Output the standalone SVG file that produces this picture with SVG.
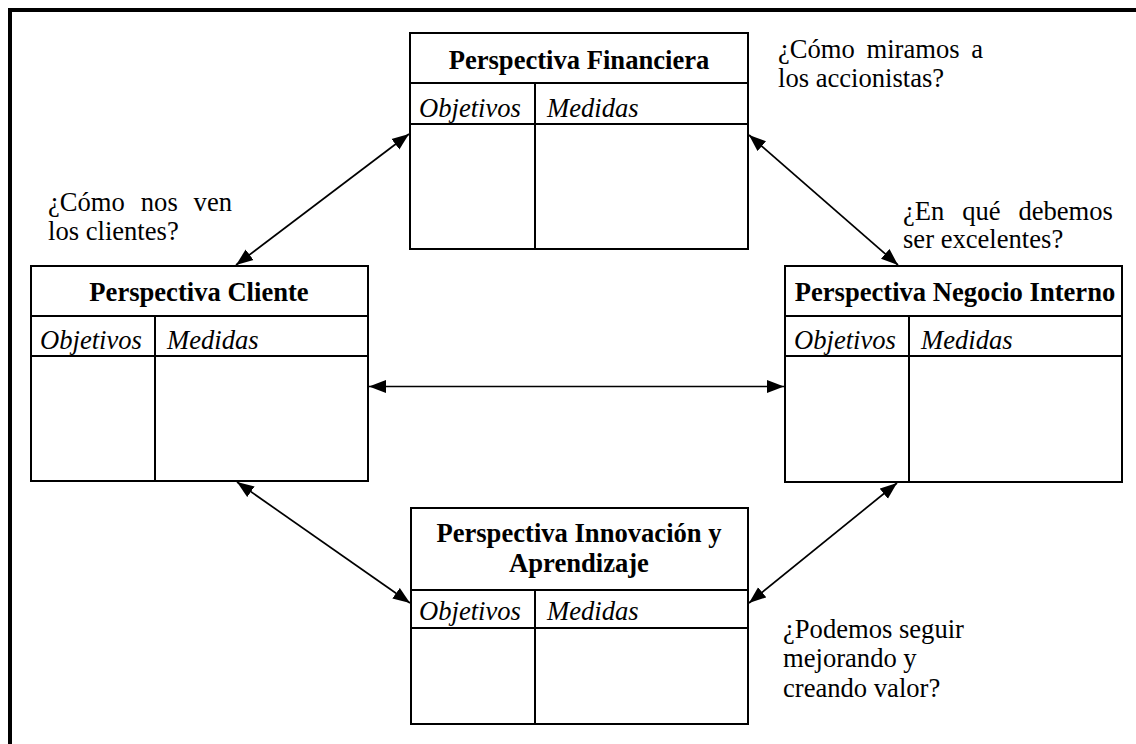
<svg xmlns="http://www.w3.org/2000/svg" width="1136" height="744" viewBox="0 0 1136 744">
<style>
.t{font-family:"Liberation Serif","Times New Roman",serif;font-size:26.6px;fill:#000}
.h{font-weight:bold;text-anchor:middle}
.i{font-style:italic}
.box{fill:#fff;stroke:#000;stroke-width:2}
.ln{stroke:#000;stroke-width:2;fill:none}
.arr{stroke:#000;stroke-width:1.7;fill:none;marker-start:url(#ah);marker-end:url(#ah)}
</style>
<defs>
<marker id="ah" markerUnits="userSpaceOnUse" markerWidth="18" markerHeight="14" refX="17" refY="6.5" orient="auto-start-reverse" viewBox="0 0 18 13">
<path d="M0,0 L17,6.5 L0,13 Z" fill="#000"/>
</marker>
</defs>
<rect x="0" y="0" width="1136" height="744" fill="#fff"/>
<rect x="10" y="10" width="1200" height="800" fill="none" stroke="#000" stroke-width="4"/>

<g id="financiera">
<rect class="box" x="410" y="33" width="338" height="216"/>
<line class="ln" x1="410" y1="83" x2="748" y2="83"/>
<line class="ln" x1="410" y1="124" x2="748" y2="124"/>
<line class="ln" x1="535" y1="83" x2="535" y2="249"/>
<text class="t h" x="579" y="69">Perspectiva Financiera</text>
<text class="t i" x="419" y="117">Objetivos</text>
<text class="t i" x="547" y="117">Medidas</text>
</g>

<g id="cliente">
<rect class="box" x="31" y="266" width="337" height="215"/>
<line class="ln" x1="31" y1="316" x2="368" y2="316"/>
<line class="ln" x1="31" y1="356" x2="368" y2="356"/>
<line class="ln" x1="155" y1="316" x2="155" y2="481"/>
<text class="t h" x="199" y="301">Perspectiva Cliente</text>
<text class="t i" x="40" y="349">Objetivos</text>
<text class="t i" x="167" y="349">Medidas</text>
</g>

<g id="negocio">
<rect class="box" x="785" y="266" width="337" height="216"/>
<line class="ln" x1="785" y1="316" x2="1122" y2="316"/>
<line class="ln" x1="785" y1="356" x2="1122" y2="356"/>
<line class="ln" x1="909" y1="316" x2="909" y2="482"/>
<text class="t h" x="955" y="301">Perspectiva Negocio Interno</text>
<text class="t i" x="794" y="349">Objetivos</text>
<text class="t i" x="921" y="349">Medidas</text>
</g>

<g id="innovacion">
<rect class="box" x="411" y="508" width="337" height="216"/>
<line class="ln" x1="411" y1="590" x2="748" y2="590"/>
<line class="ln" x1="411" y1="628" x2="748" y2="628"/>
<line class="ln" x1="535" y1="590" x2="535" y2="724"/>
<text class="t h" x="579" y="542">Perspectiva Innovación y</text>
<text class="t h" x="579" y="572">Aprendizaje</text>
<text class="t i" x="419" y="620">Objetivos</text>
<text class="t i" x="547" y="620">Medidas</text>
</g>

<g id="connectors">
<line class="arr" x1="236" y1="265" x2="409" y2="134"/>
<line class="arr" x1="749" y1="135" x2="898" y2="265"/>
<line class="arr" x1="369" y1="386.5" x2="784" y2="386.5"/>
<line class="arr" x1="237" y1="482" x2="410" y2="603"/>
<line class="arr" x1="897" y1="483" x2="749" y2="603"/>
</g>

<g id="labels">
<text class="t" y="211"><tspan x="48">¿Cómo</tspan><tspan x="140.8">nos</tspan><tspan x="193.6">ven</tspan></text>
<text class="t" x="48" y="240">los clientes?</text>
<text class="t" y="58"><tspan x="778">¿Cómo</tspan><tspan x="866.5">miramos</tspan><tspan x="971.2">a</tspan></text>
<text class="t" x="778" y="87">los accionistas?</text>
<text class="t" y="220"><tspan x="903">¿En</tspan><tspan x="962.2">qué</tspan><tspan x="1018.4">debemos</tspan></text>
<text class="t" x="903" y="248">ser excelentes?</text>
<text class="t" x="783" y="638">¿Podemos seguir</text>
<text class="t" x="783" y="667">mejorando y</text>
<text class="t" x="783" y="697">creando valor?</text>
</g>
</svg>
